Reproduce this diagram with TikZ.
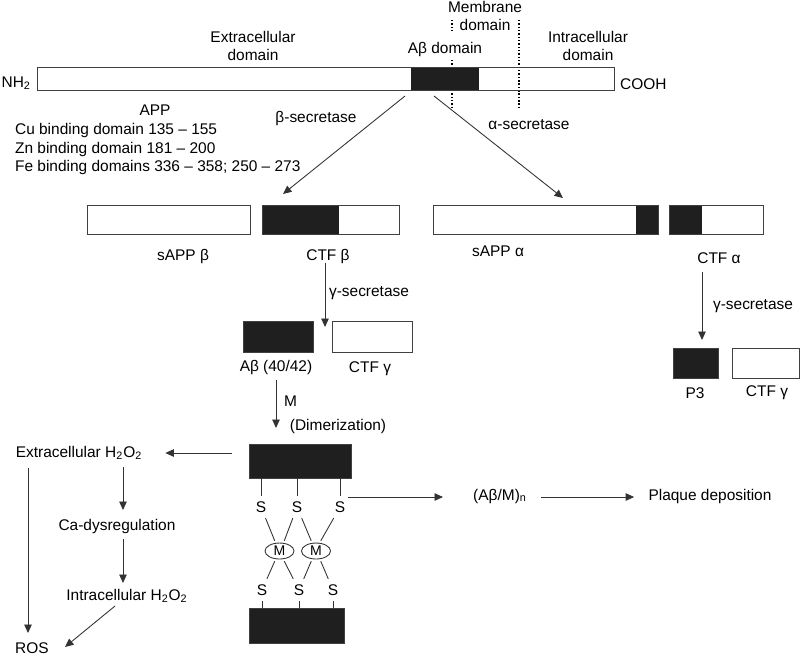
\documentclass[tikz,border=0pt]{standalone}
\usepackage{fontspec}
\setmainfont{Liberation Sans}
\usepackage{tikz}
\usetikzlibrary{arrows.meta,fit,shapes.geometric}

\begin{document}
\begin{tikzpicture}[x=0.02cm,y=-0.02cm,
    every node/.style={font=\fontsize{8.8}{10.3}\selectfont, inner sep=1pt},
    bar/.style={draw=black!75, line width=0.5pt, inner sep=0pt},
    blk/.style={fill=black!88},
    ln/.style={draw=black!80, line width=0.5pt},
    arr/.style={draw=black!80, line width=0.5pt, -{Triangle[length=1.7mm,width=1.5mm]}},
    dots/.style={line width=0.7pt, dash pattern=on 0.8pt off 1.1pt},
    metal/.style={ellipse, draw=black!80, line width=0.5pt, inner sep=0pt, outer sep=1.5pt,
      minimum width=29*0.02cm, minimum height=16*0.02cm, font=\fontsize{8}{9}\selectfont},
    sulf/.style={inner sep=3pt}]
  \useasboundingbox (0,0) rectangle (800,654);

  \draw[dots] (452,20) -- (452,33) (452,60) -- (452,107);
  \draw[dots] (519,20) -- (519,107);
  \fill[blk] (411,67) rectangle (479,90);
  \node[bar, fit={(37,67) (614,90)}] (app) {};
  \node[anchor=base east] (nh) at (33,87) {NH\textsubscript{2}};
  \node[anchor=base west] (cooh) at (618,89) {COOH};
  \node[align=center] (extra) at (253,46) {Extracellular\\domain};
  \node[align=center] (memb) at (485,16) {Membrane\\domain};
  \node[align=center] (intra) at (588,46) {Intracellular\\domain};
  \node (abdom) at (445,49) {Aβ domain};
  \node (applbl) at (155,110) {APP};
  \node[anchor=west, align=left] (bind) at (13,149)
    {Cu binding domain 135 – 155\\Zn binding domain 181 – 200\\Fe binding domains 336 – 358; 250 – 273};

  \node (bsec) at (316,118) {β-secretase};
  \node (asec) at (529,125) {α-secretase};
  \coordinate (bcut) at (405,96);
  \coordinate (btip) at (283,194);
  \coordinate (acut) at (434,96);
  \coordinate (atip) at (563,198);
  \draw[arr] (bcut) -- (btip);
  \draw[arr] (acut) -- (atip);

  \node[bar, fit={(87,205) (250,234)}] (sappb) {};
  \fill[blk] (262,205) rectangle (339,234);
  \node[bar, fit={(262,205) (399,234)}] (ctfb) {};
  \fill[blk] (636,205) rectangle (658,234);
  \node[bar, fit={(433,205) (658,234)}] (sappa) {};
  \fill[blk] (669,205) rectangle (702,234);
  \node[bar, fit={(669,205) (763,234)}] (ctfa) {};
  \node (sappblbl) at (183,256) {sAPP β};
  \node (ctfblbl) at (328,256) {CTF β};
  \node (sappalbl) at (498,251) {sAPP α};
  \node (ctfalbl) at (719,258) {CTF α};

  \coordinate (g1s) at (325,263);
  \coordinate (g1t) at (325,327);
  \draw[arr] (g1s) -- (g1t);
  \node (gsec1) at (369,293) {γ-secretase};
  \node[bar, blk, fit={(243,321) (313,352)}] (abeta) {};
  \node[bar, fit={(332,321) (412,352)}] (ctfg1) {};
  \node (abetalbl) at (276,367) {Aβ (40/42)};
  \node (ctfg1lbl) at (370,369) {CTF γ};

  \coordinate (g2s) at (702,272);
  \coordinate (g2t) at (702,340);
  \draw[arr] (g2s) -- (g2t);
  \node (gsec2) at (753,306) {γ-secretase};
  \node[bar, blk, fit={(673,348) (718,378)}] (p3) {};
  \node[bar, fit={(732,348) (799,378)}] (ctfg2) {};
  \node (p3lbl) at (695,393) {P3};
  \node (ctfg2lbl) at (767,393) {CTF γ};

  \coordinate (ms) at (276,380);
  \coordinate (mt) at (276,428);
  \draw[arr] (ms) -- (mt);
  \node[anchor=west] (mlbl) at (282,401) {M};
  \node (dimlbl) at (338,426) {(Dimerization)};

  \node[bar, blk, fit={(249,444) (351,478)}] (dtop) {};
  \node[sulf] (s1) at (261,507) {S};
  \node[sulf] (s2) at (297,507) {S};
  \node[sulf] (s3) at (340,507) {S};
  \draw[ln] (s1 |- dtop.south) -- (s1);
  \draw[ln] (s2 |- dtop.south) -- (s2);
  \draw[ln] (s3 |- dtop.south) -- (s3);
  \node[metal] (m1) at (279.5,551) {M};
  \node[metal] (m2) at (316,551) {M};
  \draw[ln] (s1) -- (m1.115);
  \draw[ln] (s2) -- (m1.65);
  \draw[ln] (s2) -- (m2.115);
  \draw[ln] (s3) -- (m2.65);
  \node[sulf] (s4) at (262,590) {S};
  \node[sulf] (s5) at (299,590) {S};
  \node[sulf] (s6) at (333,590) {S};
  \draw[ln] (m1.245) -- (s4);
  \draw[ln] (m1.295) -- (s5);
  \draw[ln] (m2.245) -- (s5);
  \draw[ln] (m2.295) -- (s6);
  \node[bar, blk, fit={(249,608) (344,643)}] (dbot) {};
  \draw[ln] (s4) -- (s4 |- dbot.north);
  \draw[ln] (s5) -- (s5 |- dbot.north);
  \draw[ln] (s6) -- (s6 |- dbot.north);

  \node (exh) at (79,453) {Extracellular H\textsubscript{2}O\textsubscript{2}};
  \node (ca) at (117,526) {Ca-dysregulation};
  \node (inh) at (127,596) {Intracellular H\textsubscript{2}O\textsubscript{2}};
  \node (ros) at (32,648) {ROS};
  \coordinate (hsrc) at (232,453);
  \draw[arr, shorten >=12pt] (hsrc) -- (exh.east);
  \coordinate (c1s) at (123,467);
  \coordinate (c1t) at (123,510);
  \draw[arr] (c1s) -- (c1t);
  \coordinate (c2s) at (123,539);
  \coordinate (c2t) at (123,583);
  \draw[arr] (c2s) -- (c2t);
  \coordinate (r1s) at (115,606);
  \coordinate (r1t) at (65,647);
  \draw[arr] (r1s) -- (r1t);
  \coordinate (r2s) at (28,468);
  \coordinate (r2t) at (28,633);
  \draw[arr] (r2s) -- (r2t);

  \node (abm) at (500,496) {(Aβ/M)\textsubscript{n}};
  \node (plaque) at (710,496) {Plaque deposition};
  \coordinate (s3r) at (348,497);
  \draw[arr, shorten >=16pt] (s3r) -- (s3r -| abm.west);
  \draw[arr, shorten <=7pt, shorten >=7pt] (abm.east |- s3r) -- (plaque.west |- s3r);
\end{tikzpicture}
\end{document}
